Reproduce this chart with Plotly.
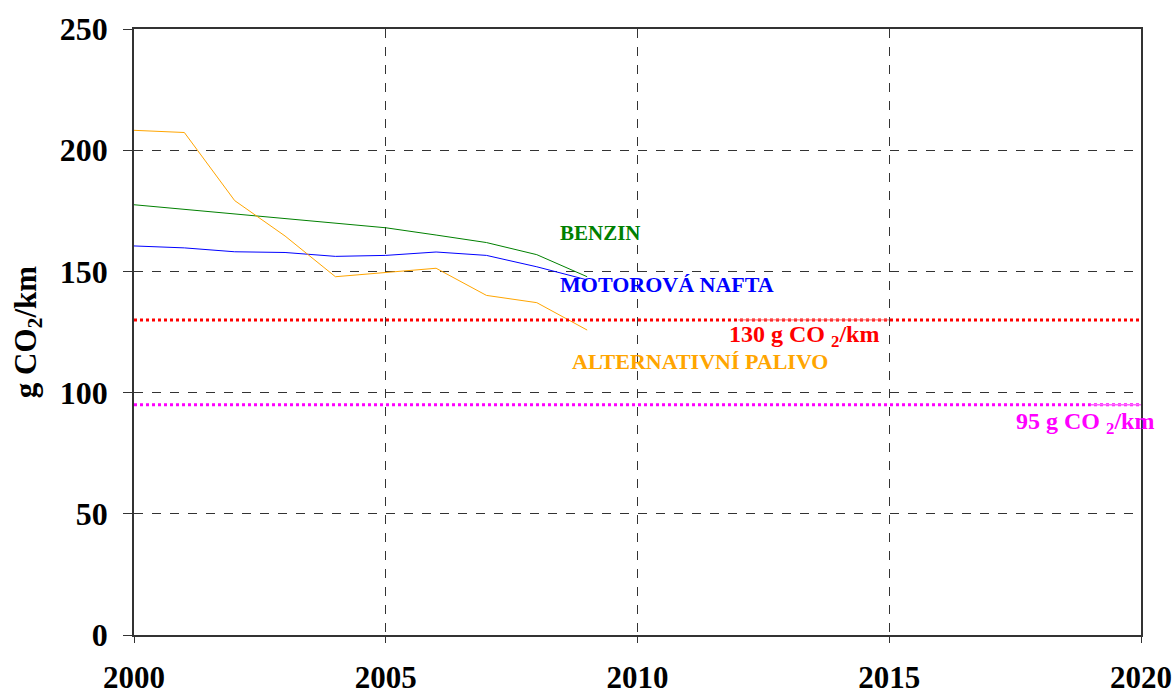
import plotly.graph_objects as go

years = [2000, 2001, 2002, 2003, 2004, 2005, 2006, 2007, 2008, 2009]
benzin = [177.5, 175.6, 173.7, 171.9, 170.1, 168.0, 165.0, 161.9, 156.9, 147.8]
nafta = [160.5, 159.7, 158.1, 157.8, 156.2, 156.6, 158.0, 156.6, 151.9, 146.5]
alt = [208.2, 207.3, 179.2, 164.6, 147.8, 149.5, 151.3, 140.1, 137.1, 125.8]

limit130_x = [2000, 2020]
limit130_y = [130, 130]
limit130_solid_x = [2012, 2015]
limit95_x = [2000, 2020]
limit95_y = [95, 95]
limit95_solid_x = [2019, 2020]

x_ticks = [2000, 2005, 2010, 2015, 2020]
y_ticks = [0, 50, 100, 150, 200, 250]

FONT = "Liberation Serif, Times New Roman, serif"

fig = go.Figure()
fig.add_trace(go.Scatter(x=years, y=benzin, mode="lines", line=dict(color="#008000", width=1), name="BENZIN"))
fig.add_trace(go.Scatter(x=years, y=nafta, mode="lines", line=dict(color="#0000FF", width=1), name="MOTOROVÁ NAFTA"))
fig.add_trace(go.Scatter(x=years, y=alt, mode="lines", line=dict(color="#FFA500", width=1), name="ALTERNATIVNÍ PALIVO"))
fig.add_trace(go.Scatter(x=limit130_x, y=limit130_y, mode="lines", line=dict(color="#FF0000", width=3, dash="dot")))
fig.add_trace(go.Scatter(x=limit130_solid_x, y=limit130_y, mode="lines", line=dict(color="#FF6666", width=1)))
fig.add_trace(go.Scatter(x=limit95_x, y=limit95_y, mode="lines", line=dict(color="#FF00FF", width=3, dash="dot")))
fig.add_trace(go.Scatter(x=limit95_solid_x, y=limit95_y, mode="lines", line=dict(color="#FF66FF", width=1.5)))

ann = [
    dict(x=2008.42, y=165.8, text="BENZIN", color="#008000", size=21),
    dict(x=2008.42, y=144.8, text="MOTOROVÁ NAFTA", color="#0000FF", size=22),
    dict(x=2011.78, y=123.3, text="130 g CO <sub>2</sub>/km", color="#FF0000", size=24),
    dict(x=2008.66, y=113.0, text="ALTERNATIVNÍ PALIVO", color="#FFA500", size=22),
    dict(x=2017.48, y=87.5, text="95 g CO <sub>2</sub>/km", color="#FF00FF", size=24),
]
for a in ann:
    fig.add_annotation(x=a["x"], y=a["y"], text="<b>" + a["text"] + "</b>", showarrow=False,
                       xanchor="left", yanchor="middle",
                       font=dict(family=FONT, size=a["size"], color=a["color"]))

fig.update_layout(
    width=1175, height=697,
    margin=dict(l=134, r=34, t=29, b=62),
    paper_bgcolor="white", plot_bgcolor="white",
    showlegend=False,
    font=dict(family=FONT, color="black"),
)
fig.update_xaxes(
    range=[2000, 2020], tickvals=x_ticks, ticktext=["<b>%d</b>" % v for v in x_ticks],
    tickfont=dict(family=FONT, size=31, color="black"),
    showgrid=True, gridcolor="#333333", griddash="dash", gridwidth=1,
    showline=True, linecolor="#333333", linewidth=1.5, mirror=True,
    ticks="outside", ticklen=6, tickcolor="#333333", ticklabelstandoff=8,
    zeroline=False, automargin=False,
)
fig.update_yaxes(
    range=[0, 250], tickvals=y_ticks, ticktext=["<b>%d</b>" % v for v in y_ticks],
    tickfont=dict(family=FONT, size=32, color="black"),
    showgrid=True, gridcolor="#333333", griddash="dash", gridwidth=1,
    showline=True, linecolor="#333333", linewidth=1.5, mirror=True,
    ticks="outside", ticklen=9, tickcolor="#333333", ticklabelstandoff=9,
    zeroline=False, automargin=False,
    title=dict(text="<b>g CO<sub>2</sub>/km</b>", font=dict(family=FONT, size=31, color="black"), standoff=14),
)

# remove the default page margin so the 1175x697 figure fills the window exactly
fig.write_html("out.html",
               config={"displayModeBar": False},
               post_script="document.body.style.margin='0';document.body.style.overflow='hidden';")
